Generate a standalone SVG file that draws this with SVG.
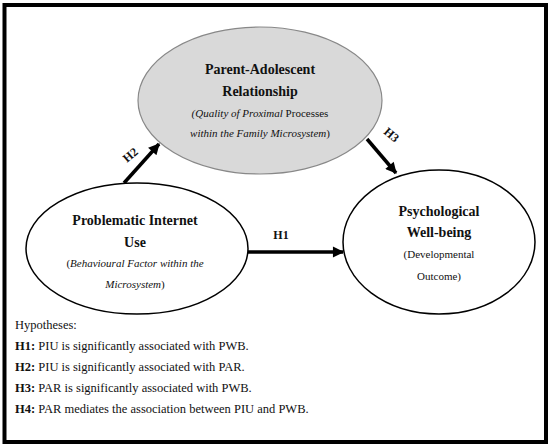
<svg xmlns="http://www.w3.org/2000/svg" width="550" height="447" viewBox="0 0 550 447">
<defs>
<style>
.t{font-family:"Liberation Serif","Times New Roman",serif;fill:#111;text-anchor:middle}
.b{font-weight:bold;font-size:14px}
.s{font-size:11px}
.i{font-style:italic}
.h{font-family:"Liberation Serif","Times New Roman",serif;font-size:12.5px;fill:#111}
.lbl{font-family:"Liberation Serif","Times New Roman",serif;font-size:12px;font-weight:bold;fill:#111;text-anchor:middle}
.arr{stroke:#000;stroke-width:3.5;fill:none;marker-end:url(#ah)}
</style>
<marker id="ah" viewBox="0 0 10 10" refX="9" refY="5" markerWidth="3.6" markerHeight="3.2" orient="auto" markerUnits="strokeWidth">
<path d="M0,0 L10,5 L0,10 z" fill="#000"/>
</marker>
</defs>
<rect x="0" y="0" width="550" height="447" fill="#fff"/>
<rect x="4.5" y="5" width="541.5" height="437" fill="none" stroke="#000" stroke-width="4"/>
<g id="connectors">
<line class="arr" x1="248" y1="252" x2="343" y2="252"/>
<line class="arr" x1="124" y1="183" x2="159" y2="144"/>
<line class="arr" x1="367" y1="139" x2="396" y2="173"/>
<text class="lbl" x="281" y="239">H1</text>
<text class="lbl" transform="translate(133,158) rotate(-40)">H2</text>
<text class="lbl" transform="translate(389,138) rotate(40)">H3</text>
</g>
<g id="par">
<ellipse cx="260" cy="100.5" rx="122" ry="73.5" fill="#d9d9d9" stroke="#888" stroke-width="1.2"/>
<text class="t b" x="260" y="74">Parent-Adolescent</text>
<text class="t b" x="260" y="96">Relationship</text>
<text class="t s" x="260" y="117"><tspan class="i">(Quality of Proximal</tspan> Processes</text>
<text class="t s i" x="260" y="137">within the Family Microsystem<tspan font-style="normal">)</tspan></text>
</g>
<g id="piu">
<ellipse cx="137" cy="248.5" rx="111" ry="65.5" fill="#fff" stroke="#000" stroke-width="1.5"/>
<text class="t b" x="135" y="225">Problematic Internet</text>
<text class="t b" x="135" y="247">Use</text>
<text class="t s i" x="135" y="267"><tspan font-style="normal">(</tspan>Behavioural Factor within the</text>
<text class="t s i" x="135" y="288">Microsystem<tspan font-style="normal">)</tspan></text>
</g>
<g id="pwb">
<ellipse cx="439" cy="242" rx="96" ry="72" fill="#fff" stroke="#000" stroke-width="1.5"/>
<text class="t b" x="439" y="216">Psychological</text>
<text class="t b" x="439" y="237">Well-being</text>
<text class="t s" x="439" y="258">(Developmental</text>
<text class="t s" x="439" y="280">Outcome)</text>
</g>
<g id="hypotheses">
<text class="h" x="15" y="329">Hypotheses:</text>
<text class="h" x="15" y="350"><tspan font-weight="bold">H1:</tspan> PIU is significantly associated with PWB.</text>
<text class="h" x="15" y="371"><tspan font-weight="bold">H2:</tspan> PIU is significantly associated with PAR.</text>
<text class="h" x="15" y="392"><tspan font-weight="bold">H3:</tspan> PAR is significantly associated with PWB.</text>
<text class="h" x="15" y="413"><tspan font-weight="bold">H4:</tspan> PAR mediates the association between PIU and PWB.</text>
</g>
</svg>
